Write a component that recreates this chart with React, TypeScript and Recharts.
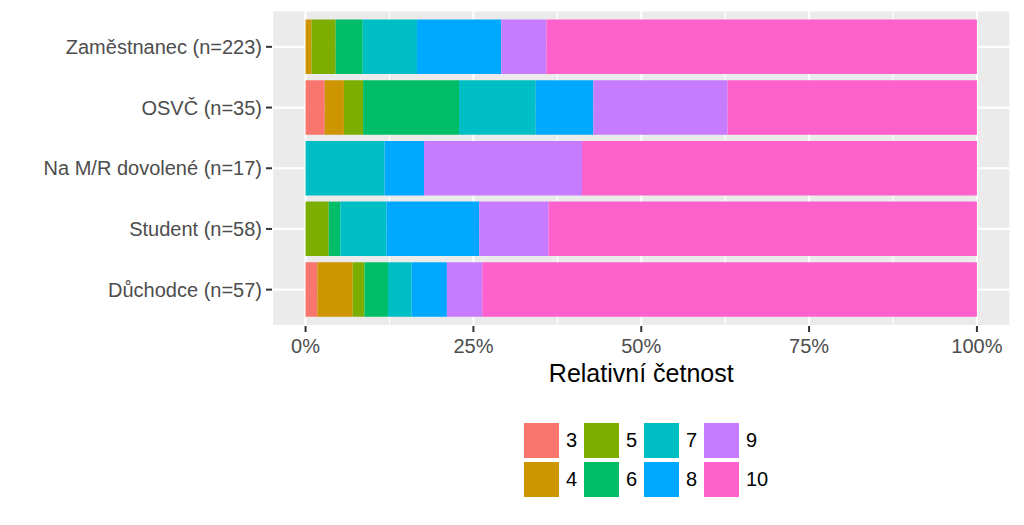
import React from 'react';
import { BarChart, Bar, XAxis, YAxis, CartesianGrid } from 'recharts';

const categories = [
  'Zaměstnanec (n=223)',
  'OSVČ (n=35)',
  'Na M/R dovolené (n=17)',
  'Student (n=58)',
  'Důchodce (n=57)',
];
const groupSizes = [223, 35, 17, 58, 57];

const levels = ['3', '4', '5', '6', '7', '8', '9', '10'];
const levelColors = ['#F8766D', '#CD9600', '#7CAE00', '#00BE67', '#00BFC4', '#00A9FF', '#C77CFF', '#FF61CC'];

// counts of answers per level, one value per category (same order as categories)
const counts3 = [0, 1, 0, 0, 1];
const counts4 = [2, 1, 0, 0, 3];
const counts5 = [8, 1, 0, 2, 1];
const counts6 = [9, 5, 0, 1, 2];
const counts7 = [18, 4, 2, 4, 2];
const counts8 = [28, 3, 1, 8, 3];
const counts9 = [15, 7, 4, 6, 3];
const counts10 = [143, 13, 10, 37, 42];
const countsByLevel = [counts3, counts4, counts5, counts6, counts7, counts8, counts9, counts10];

const xTicks = [0, 25, 50, 75, 100];
const xMinorTicks = [12.5, 37.5, 62.5, 87.5];
const xDomain = [-5, 105];

const data = categories.map((cat, i) => {
  const row: Record<string, string | number> = { category: cat };
  levels.forEach((lv, j) => {
    row['l' + lv] = (countsByLevel[j][i] / groupSizes[i]) * 100;
  });
  return row;
});

const FONT = "Arial, 'Liberation Sans', sans-serif";

function LegendBox() {
  return (
    <div style={{ position: 'absolute', left: 524, top: 423, fontFamily: FONT }}>
      {levels.map((lv, j) => {
        const col = Math.floor(j / 2);
        const row = j % 2;
        return (
          <div
            key={lv}
            style={{ position: 'absolute', left: col * 60, top: row * 39, display: 'flex', alignItems: 'center', height: 35 }}
          >
            <div style={{ width: 35, height: 35, background: levelColors[j] }} />
            <span style={{ marginLeft: 7, fontSize: 20, color: '#000', lineHeight: '35px' }}>{lv}</span>
          </div>
        );
      })}
    </div>
  );
}

export default function App() {
  return (
    <div style={{ position: 'absolute', left: 0, top: 0, width: 1024, height: 525, background: '#fff', fontFamily: FONT }}>
      <BarChart
        width={1024}
        height={525}
        data={data}
        layout="vertical"
        margin={{ top: 10.5, right: 13.5, left: 0, bottom: 139 }}
        barSize={54.5}
      >
        <CartesianGrid fill="#EBEBEB" stroke="#FFFFFF" strokeWidth={2.2} xAxisId="main" />
        <CartesianGrid fill="none" stroke="#FFFFFF" strokeWidth={1.1} horizontal={false} xAxisId="minor" />
        <XAxis
          xAxisId="main"
          type="number"
          domain={xDomain}
          ticks={xTicks}
          allowDataOverflow
          tickFormatter={(v: number) => `${v}%`}
          axisLine={false}
          tickSize={6}
          tickMargin={7}
          tickLine={{ stroke: '#333333', strokeWidth: 2 }}
          tick={{ fontSize: 20, fill: '#4D4D4D' }}
          height={60}
          label={{ value: 'Relativní četnost', position: 'insideBottom', offset: 4, fontSize: 25, fill: '#000000' }}
        />
        <XAxis xAxisId="minor" type="number" domain={xDomain} ticks={xMinorTicks} allowDataOverflow hide />
        <YAxis
          type="category"
          dataKey="category"
          width={272}
          axisLine={false}
          tickSize={6}
          tickMargin={4}
          tickLine={{ stroke: '#333333', strokeWidth: 2 }}
          tick={{ fontSize: 20, fill: '#4D4D4D' }}
          padding={{ top: 6, bottom: 6 }}
          interval={0}
        />
        {levels.map((lv, j) => (
          <Bar
            key={lv}
            xAxisId="main"
            dataKey={'l' + lv}
            name={lv}
            stackId="s"
            fill={levelColors[j]}
            isAnimationActive={false}
          />
        ))}
      </BarChart>
      <LegendBox />
    </div>
  );
}
